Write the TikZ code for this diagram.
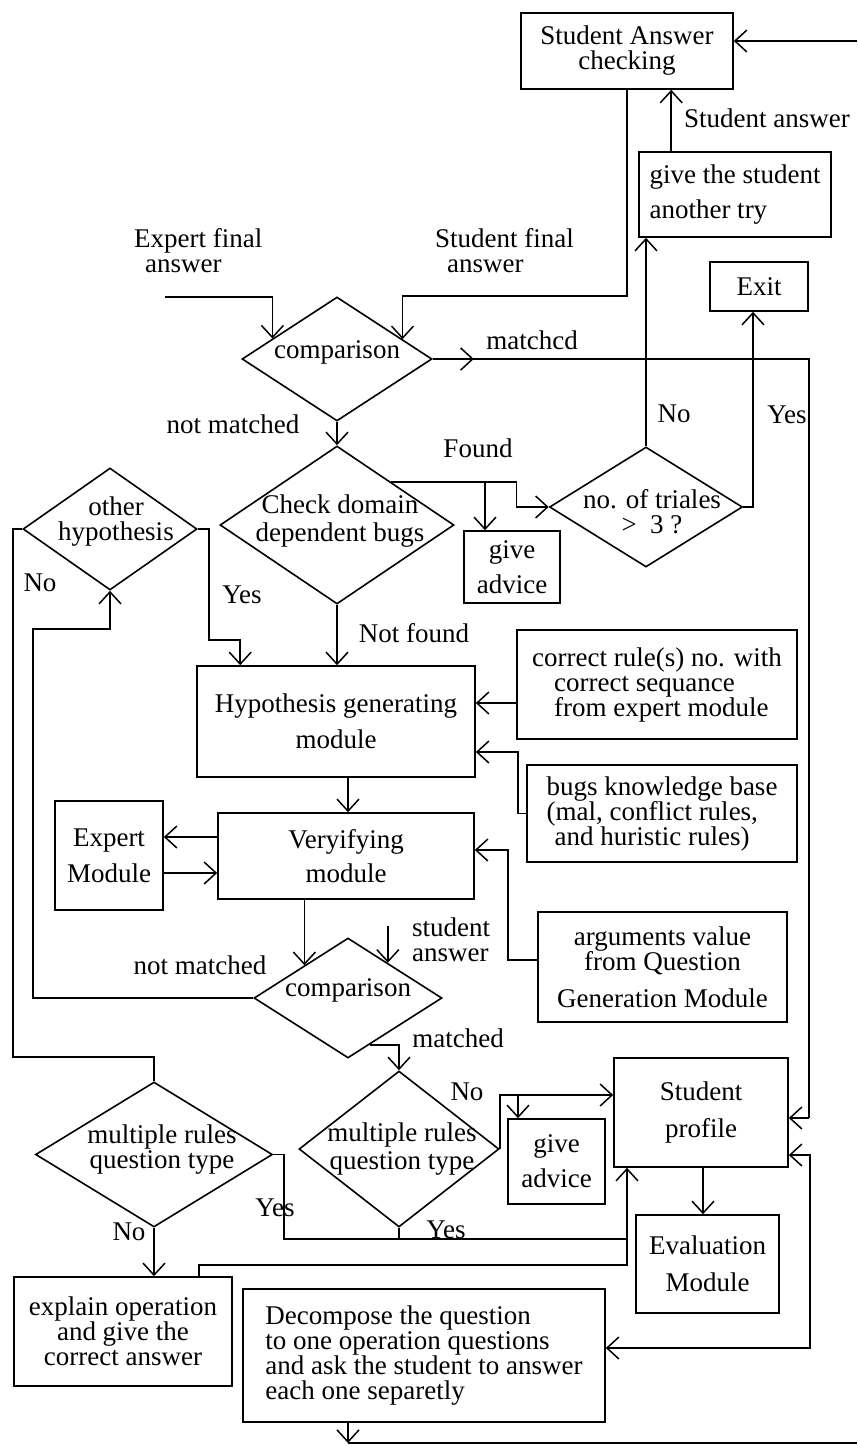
\documentclass[tikz,border=0pt]{standalone}
\usepackage{fontspec}
\setmainfont{Liberation Serif}
\usetikzlibrary{arrows.meta,calc,shapes.geometric}
\begin{document}
\begin{tikzpicture}[x=1pt,y=-1pt,
  font=\fontsize{27}{25}\selectfont,
  box/.style={draw, line width=1.6pt, rectangle, inner sep=0pt, align=center},
  dia/.style={draw, line width=1.6pt, diamond, inner sep=0pt},
  lbl/.style={inner sep=0pt, align=center},
  conn/.style={line width=1.5pt},
  arr/.style={conn, -{Straight Barb[length=12pt,width=22pt]}},
  arrb/.style={conn, {Straight Barb[length=12pt,width=22pt]}-{Straight Barb[length=12pt,width=22pt]}},
]
\fill[white] (0,0) rectangle (857,1446);
\useasboundingbox (0,0) rectangle (857,1446);

% ---------- nodes ----------
\node[box, minimum width=212pt, minimum height=76pt] (sac) at (627,51) {Student Answer\\checking};
\node[box, minimum width=192pt, minimum height=85pt, align=left] (try) at (735,194.5) {give the student\\[10pt]another try};
\node[box, minimum width=98pt, minimum height=49pt] (exit) at (759,286.5) {Exit};
\node[dia, minimum width=190pt, minimum height=124pt] (c1) at (337,359) {};
\node[lbl] (c1t) at (337,352) {comparison};
\node[dia, minimum width=234pt, minimum height=158pt] (cd) at (337,525) {};
\node[lbl] (cdt) at (340,521) {Check domain\\[3pt]dependent bugs};
\node[dia, minimum width=193pt, minimum height=120pt] (tri) at (646,507) {};
\node[lbl] (trit) at (652,512) {no. of triales\\>\enspace 3 ?};
\node[box, minimum width=96pt, minimum height=72pt] (adv1) at (512,567) {give\\[10pt]advice};
\node[dia, minimum width=174pt, minimum height=122pt] (oh) at (110,529) {};
\node[lbl] (oht) at (116,522) {other\\hypothesis};
\node[box, minimum width=278pt, minimum height=111pt] (hyp) at (336,721.5) {Hypothesis generating\\[11pt]module};
\node[box, minimum width=280pt, minimum height=109pt, align=left] (crs) at (657,684.5) {correct rule(s) no. with\\\hspace*{22pt}correct sequance\\\hspace*{22pt}from expert module};
\node[box, minimum width=270pt, minimum height=97pt, align=left] (bkb) at (662,813.5) {bugs knowledge base\\(mal, conflict rules,\\\hspace*{8pt}and huristic rules)};
\node[box, minimum width=256pt, minimum height=86pt] (ver) at (346,856) {Veryifying\\[9pt]module};
\node[box, minimum width=108pt, minimum height=109pt] (exp) at (109,855.5) {Expert\\[11pt]Module};
\node[box, minimum width=249pt, minimum height=110pt] (arg) at (662.5,967) {arguments value\\from Question\\[12pt]Generation Module};
\node[dia, minimum width=188pt, minimum height=120pt] (c2) at (348,998) {};
\node[lbl] (c2t) at (348,990) {comparison};
\node[dia, minimum width=200pt, minimum height=156pt] (mr2) at (399,1149) {};
\node[lbl] (mr2t) at (402,1149) {multiple rules\\[3pt]question type};
\node[dia, minimum width=237pt, minimum height=145pt] (mr1) at (154,1154.5) {};
\node[lbl] (mr1t) at (162,1150) {multiple rules\\question type};
\node[box, minimum width=97pt, minimum height=85pt] (adv2) at (556.5,1161.5) {give\\[10pt]advice};
\node[box, minimum width=174pt, minimum height=109pt] (sp) at (701,1112.5) {Student\\[12pt]profile};
\node[box, minimum width=143pt, minimum height=98pt] (eval) at (707.5,1264) {Evaluation\\[12pt]Module};
\node[box, minimum width=218pt, minimum height=109pt] (expl) at (123,1331.5) {explain operation\\and give the\\correct answer};
\node[box, minimum width=362pt, minimum height=133pt, align=left] (dec) at (424,1355.5) {Decompose the question\\to one operation questions\\and ask the student to answer\\each one separetly};

% ---------- labels ----------
\node[lbl] (l1) at (767,118) {Student answer};
\node[lbl, anchor=west, align=left] (l2) at (134,251) {Expert final\\\hspace*{11pt}answer};
\node[lbl, anchor=west, align=left] (l3) at (435,251) {Student final\\\hspace*{12pt}answer};
\node[lbl] (l4) at (532,340) {matchcd};
\node[lbl] (l5) at (233,424) {not matched};
\node[lbl] (l6) at (478,448) {Found};
\node[lbl] (l7) at (674,414) {No};
\node[lbl] (l8) at (787,415) {Yes};
\node[lbl] (l9) at (40,583) {No};
\node[lbl] (l10) at (242,595) {Yes};
\node[lbl] (l11) at (414,633) {Not found};
\node[lbl, anchor=west, align=left] (l12) at (412,940) {student\\answer};
\node[lbl] (l13) at (200,965) {not matched};
\node[lbl] (l14) at (458,1038) {matched};
\node[lbl] (l15) at (467,1092) {No};
\node[lbl] (l16) at (275,1208) {Yes};
\node[lbl] (l17) at (446,1230) {Yes};
\node[lbl] (l18) at (129,1232) {No};

% ---------- helper coordinates ----------
\coordinate (tr) at (857,41);
\coordinate (efs) at (165,297);
\coordinate (ef) at ($(c1.north)!0.674!(c1.west)$);
\coordinate (sf) at ($(c1.north)!0.684!(c1.east)$);
\coordinate (fs) at ($(cd.north)!0.46!(cd.east)$);
\coordinate (lnk) at (13,1057);
\coordinate (lnm) at (33,629);
\coordinate (vc) at ($(c2.north)!0.46!(c2.west)$);
\coordinate (sa) at ($(c2.north)!0.42!(c2.east)$);
\coordinate (cm) at ($(c2.south)!0.23!(c2.east)$);
\coordinate (nb) at ([yshift=17.5pt]sp.west);
\coordinate (jn) at (627,1265);
\coordinate (yl) at (627,1239);
\coordinate (yb) at (284,1239);
\coordinate (dr) at (810,1348);
\coordinate (bl) at (348,1443);
\coordinate (br) at (857,1443);

% ---------- connectors ----------
\draw[arr] (tr) -- (tr -| sac.east);
\draw[arr] ([xshift=33pt]try.north west) -- ([xshift=33pt]try.north west |- sac.south);
\draw[arr] (sac.south) -- (sac.south |- c1.north) -| (sf);
\draw[arr] (efs) -| (ef);
\draw[conn] (c1.east) -| ($(sp.east)+(20,5.5)$);
\draw[arr] ($(sp.east)+(20,5.5)$) -- ([yshift=-5.5pt]sp.east);
\draw[arr] (c1.east) -- ++(41,0);
\draw[arr] (c1.south) -- (cd.north);
\draw[arr] (fs) -| ($(tri.west)+(-32,0)$) -- (tri.west);
\draw[arr] ([xshift=-27pt]adv1.north |- fs) -- ([xshift=-27pt]adv1.north);
\draw[arr] (tri.north) -- (tri.north |- try.south);
\draw[arr] (tri.east) -| ([xshift=-6pt]exit.south);
\draw[arr] (cd.south) -- (cd.south |- hyp.north);
\draw[arr] (oh.east) -| ($(oh.east)+(11,111)$) -| ([xshift=44pt]hyp.north west);
\draw[conn] (oh.west) -| (lnk) -| (mr1.north);
\draw[arr] (c2.west) -| (lnm) -| (oh.south);
\draw[arr] ([xshift=12pt]hyp.south) -- ([xshift=12pt]hyp.south |- ver.north);
\draw[arr] ([yshift=19pt]ver.west) -- ([yshift=19pt]ver.west -| exp.east);
\draw[arr] ([yshift=-17pt]ver.west -| exp.east) -- ([yshift=-17pt]ver.west);
\draw[arr] (vc |- ver.south) -- (vc);
\draw[arr] ($(sa)+(0,-37)$) -- (sa);
\draw[arr] (cm) -| (mr2.north);
\draw[arr] ([yshift=-18.5pt]crs.west) -- ([yshift=-18.5pt]crs.west -| hyp.east);
\draw[arr] (bkb.west) -| ($(hyp.east)+(42,30.5)$) -- ([yshift=-30.5pt]hyp.east);
\draw[arr] ([yshift=7pt]arg.west) -| ($(ver.east)+(33,-6)$) -- ([yshift=6pt]ver.east);
\draw[arr] (mr2.east) |- (nb);
\draw[arr] ([xshift=-38.5pt]adv2.north |- nb) -- ([xshift=-38.5pt]adv2.north);
\draw[arr] ([xshift=2pt]sp.south) -- ([xshift=2pt]sp.south |- eval.north);
\draw[arr] ([xshift=76pt]expl.north) |- (jn) -- (jn |- sp.south);
\draw[conn] (mr1.east) -| (yb) -- (yl);
\draw[conn] (mr2.south) -- (mr2.south |- yl);
\draw[arr] (mr1.south) -- (mr1.south |- expl.north);
\draw[arrb] ([yshift=-42.5pt]sp.east) -| (dr) -- (dr -| dec.east);
\draw[arr] ([xshift=-76pt]dec.south) -- ([xshift=-76pt]dec.south |- bl);
\draw[conn] (bl) -- (br);
\end{tikzpicture}
\end{document}
